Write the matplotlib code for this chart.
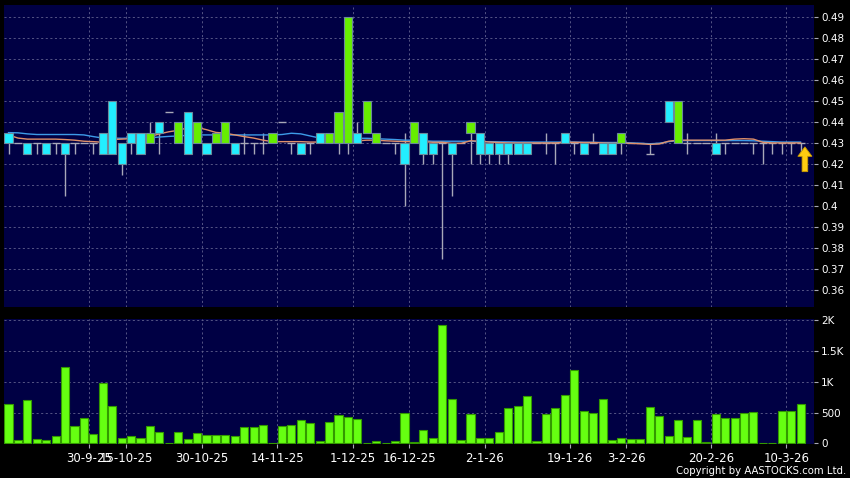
import matplotlib
matplotlib.use("Agg")
import matplotlib.pyplot as plt

# daily candles, one per trading session (index 0..84)
opens = [0.430, 0.430, 0.425, 0.430, 0.425, 0.430, 0.425, 0.430, 0.430, 0.430,
         0.425, 0.425, 0.420, 0.430, 0.425, 0.435, 0.435, 0.445, 0.440, 0.425,
         0.440, 0.425, 0.435, 0.440, 0.425, 0.430, 0.430, 0.430, 0.435, 0.440,
         0.430, 0.425, 0.430, 0.430, 0.435, 0.445, 0.490, 0.430, 0.450, 0.435,
         0.430, 0.430, 0.420, 0.440, 0.425, 0.425, 0.430, 0.425, 0.430, 0.440,
         0.425, 0.425, 0.425, 0.425, 0.425, 0.425, 0.430, 0.430, 0.430, 0.430,
         0.430, 0.425, 0.430, 0.425, 0.425, 0.435, 0.430, 0.430, 0.425, 0.430,
         0.440, 0.450, 0.430, 0.430, 0.430, 0.425, 0.430, 0.430, 0.430, 0.430,
         0.430, 0.430, 0.430, 0.430, 0.430]
closes = [0.435, 0.430, 0.430, 0.430, 0.430, 0.430, 0.430, 0.430, 0.430, 0.430,
          0.435, 0.450, 0.430, 0.435, 0.435, 0.430, 0.440, 0.445, 0.430, 0.445,
          0.430, 0.430, 0.430, 0.430, 0.430, 0.430, 0.430, 0.430, 0.430, 0.440,
          0.430, 0.430, 0.430, 0.435, 0.430, 0.430, 0.430, 0.435, 0.435, 0.430,
          0.430, 0.430, 0.430, 0.430, 0.435, 0.430, 0.430, 0.430, 0.430, 0.435,
          0.435, 0.430, 0.430, 0.430, 0.430, 0.430, 0.430, 0.430, 0.430, 0.435,
          0.430, 0.430, 0.430, 0.430, 0.430, 0.430, 0.430, 0.430, 0.425, 0.430,
          0.450, 0.430, 0.430, 0.430, 0.430, 0.430, 0.430, 0.430, 0.430, 0.430,
          0.430, 0.430, 0.430, 0.430, 0.430]
highs = [0.435, 0.430, 0.430, 0.430, 0.430, 0.430, 0.430, 0.430, 0.430, 0.430,
         0.435, 0.450, 0.430, 0.435, 0.435, 0.440, 0.440, 0.445, 0.440, 0.445,
         0.440, 0.430, 0.435, 0.440, 0.430, 0.435, 0.430, 0.435, 0.435, 0.440,
         0.430, 0.430, 0.430, 0.435, 0.435, 0.445, 0.490, 0.440, 0.450, 0.435,
         0.430, 0.430, 0.435, 0.440, 0.435, 0.430, 0.430, 0.430, 0.430, 0.440,
         0.435, 0.430, 0.430, 0.430, 0.430, 0.430, 0.430, 0.435, 0.430, 0.435,
         0.430, 0.430, 0.435, 0.430, 0.430, 0.435, 0.430, 0.430, 0.430, 0.430,
         0.450, 0.450, 0.435, 0.430, 0.430, 0.435, 0.430, 0.430, 0.430, 0.430,
         0.430, 0.430, 0.430, 0.430, 0.430]
lows = [0.425, 0.430, 0.425, 0.425, 0.425, 0.425, 0.405, 0.425, 0.430, 0.425,
        0.425, 0.425, 0.415, 0.425, 0.425, 0.430, 0.425, 0.445, 0.430, 0.425,
        0.430, 0.425, 0.430, 0.430, 0.425, 0.425, 0.425, 0.425, 0.430, 0.440,
        0.425, 0.425, 0.425, 0.430, 0.430, 0.425, 0.425, 0.430, 0.435, 0.430,
        0.430, 0.425, 0.400, 0.430, 0.420, 0.420, 0.375, 0.405, 0.430, 0.420,
        0.420, 0.420, 0.420, 0.420, 0.425, 0.425, 0.430, 0.425, 0.420, 0.430,
        0.425, 0.425, 0.430, 0.425, 0.425, 0.425, 0.430, 0.430, 0.425, 0.430,
        0.440, 0.430, 0.425, 0.430, 0.430, 0.425, 0.425, 0.430, 0.430, 0.425,
        0.420, 0.425, 0.425, 0.425, 0.425]
volumes = [634, 49, 704, 65, 49, 114, 1246, 282, 406, 146,
           975, 601, 92, 114, 92, 287, 190, 0, 190, 76,
           162, 135, 130, 135, 119, 265, 260, 298, 0, 276,
           298, 379, 330, 33, 347, 455, 433, 401, 11, 43,
           11, 33, 493, 22, 220, 92, 1918, 720, 49, 471,
           92, 92, 184, 574, 607, 764, 43, 471, 574, 780,
           1197, 525, 487, 720, 49, 87, 65, 65, 585, 450,
           114, 379, 103, 379, 16, 471, 412, 412, 498, 509,
           0, 0, 525, 525, 634]

# moving averages as drawn on the chart (orange = short, blue = long)
ma_short = [0.4340, 0.4325, 0.4320, 0.4320, 0.4320, 0.4320, 0.4318, 0.4315, 0.4310, 0.4308,
            0.4305, 0.4318, 0.4320, 0.4322, 0.4330, 0.4332, 0.4345, 0.4355, 0.4362, 0.4374,
            0.4376, 0.4365, 0.4352, 0.4348, 0.4340, 0.4332, 0.4325, 0.4315, 0.4308, 0.4308,
            0.4308, 0.4308, 0.4306, 0.4306, 0.4308, 0.4310, 0.4312, 0.4312, 0.4315, 0.4315,
            0.4312, 0.4310, 0.4308, 0.4308, 0.4308, 0.4305, 0.4305, 0.4300, 0.4300, 0.4312,
            0.4310, 0.4306, 0.4304, 0.4302, 0.4302, 0.4302, 0.4302, 0.4302, 0.4302, 0.4305,
            0.4305, 0.4304, 0.4304, 0.4302, 0.4300, 0.4302, 0.4300, 0.4298, 0.4295, 0.4297,
            0.4310, 0.4315, 0.4315, 0.4315, 0.4315, 0.4315, 0.4315, 0.4320, 0.4322, 0.4320,
            0.4305, 0.4302, 0.4302, 0.4302, 0.4302]
ma_long = [0.4351, 0.4350, 0.4345, 0.4342, 0.4342, 0.4342, 0.4342, 0.4342, 0.4340, 0.4332,
           0.4325, 0.4325, 0.4324, 0.4325, 0.4325, 0.4326, 0.4330, 0.4333, 0.4335, 0.4338,
           0.4340, 0.4340, 0.4340, 0.4340, 0.4340, 0.4340, 0.4340, 0.4340, 0.4340, 0.4342,
           0.4348, 0.4345, 0.4335, 0.4325, 0.4322, 0.4320, 0.4322, 0.4324, 0.4324, 0.4322,
           0.4320, 0.4318, 0.4315, 0.4315, 0.4312, 0.4310, 0.4310, 0.4310, 0.4310, 0.4310,
           0.4308, 0.4308, 0.4307, 0.4307, 0.4306, 0.4306, 0.4306, 0.4306, 0.4306, 0.4306,
           0.4306, 0.4305, 0.4305, 0.4304, 0.4304, 0.4304, 0.4302, 0.4300, 0.4298, 0.4300,
           0.4308, 0.4313, 0.4313, 0.4313, 0.4313, 0.4313, 0.4313, 0.4313, 0.4313, 0.4312,
           0.4310, 0.4308, 0.4306, 0.4306, 0.4306]

# date ticks sit on the boundary after these candles
tick_pos = [8.5, 12.5, 20.5, 28.5, 36.5, 42.5, 50.5, 59.5, 65.5, 74.5, 82.5]
tick_labels = ['30-9-25', '15-10-25', '30-10-25', '14-11-25', '1-12-25', '16-12-25',
               '2-1-26', '19-1-26', '3-2-26', '20-2-26', '10-3-26']
price_ticks = [0.36, 0.37, 0.38, 0.39, 0.40, 0.41, 0.42, 0.43, 0.44, 0.45, 0.46, 0.47, 0.48, 0.49]
price_labels = ['0.36', '0.37', '0.38', '0.39', '0.4', '0.41', '0.42', '0.43', '0.44', '0.45',
                '0.46', '0.47', '0.48', '0.49']
vol_ticks = [0, 500, 1000, 1500, 2000]
vol_labels = ['0', '500', '1K', '1.5K', '2K']

BG = '#000044'
GRID = '#62628f'
UP = '#22eeff'
DOWN = '#66ee00'
WICK = '#a8a8b8'

fig = plt.figure(figsize=(8.5, 4.78), dpi=100, facecolor='black')
ax_p = fig.add_axes([0.0047, 0.3577, 0.9529, 0.6318])
ax_v = fig.add_axes([0.0047, 0.0711, 0.9529, 0.2615], sharex=ax_p)

for ax in (ax_p, ax_v):
    ax.set_facecolor(BG)
    for s in ax.spines.values():
        s.set_visible(False)
    ax.yaxis.tick_right()
    ax.tick_params(axis='y', colors=WICK, labelcolor='white', length=3, width=0.8,
                   pad=2, labelsize=7.5)
    for p in tick_pos:
        ax.axvline(p, color=GRID, lw=0.6, ls=(0, (2.5, 3)), zorder=1)

n = len(closes)
idx = list(range(n))
w = 0.86

# price panel
for v in price_ticks:
    ax_p.axhline(v, color=GRID, lw=0.6, ls=(0, (2.5, 3)), zorder=1)
ax_p.vlines(idx, lows, highs, color=WICK, lw=1.0, zorder=2)
ax_p.plot(idx, ma_long, color='#3d9be8', lw=1.0, zorder=3)
ax_p.plot(idx, ma_short, color='#e0906a', lw=1.0, zorder=3)
for i in idx:
    o, c = opens[i], closes[i]
    if o == c:
        ax_p.hlines(c, i - w / 2, i + w / 2, color=WICK, lw=1.0, zorder=2)
    else:
        col = UP if c > o else DOWN
        ax_p.bar(i, abs(c - o), bottom=min(o, c), width=w, color=col,
                 edgecolor='#6b8a9a', lw=0.8, zorder=4)

# last price marker
ax_p.arrow(84.46, 0.4165, 0, 0.0118, width=0.6, head_width=1.5, head_length=0.0045,
           length_includes_head=True, fc='#ffcc11', ec='#c89a00', lw=0.6, zorder=5)

ax_p.set_ylim(0.352, 0.4959)
ax_p.set_yticks(price_ticks)
ax_p.set_yticklabels(price_labels)
ax_p.tick_params(axis='x', which='both', bottom=False, labelbottom=False)

# volume panel
for v in vol_ticks[1:]:
    ax_v.axhline(v, color=GRID, lw=0.6, ls=(0, (2.5, 3)), zorder=1)
ax_v.bar(idx, volumes, width=w, color='#66ff11', edgecolor='#339900', lw=0.8, zorder=3)
ax_v.set_ylim(-10, 2020)
ax_v.set_yticks(vol_ticks)
ax_v.set_yticklabels(vol_labels)
ax_v.set_xlim(-0.48, 85.42)
ax_v.set_xticks(tick_pos)
ax_v.set_xticklabels(tick_labels)
ax_v.tick_params(axis='x', colors=WICK, labelcolor='white', length=3, width=0.8,
                 pad=3, labelsize=8.5)

fig.text(0.995, 0.004, 'Copyright by AASTOCKS.com Ltd.', ha='right', va='bottom',
         color='white', fontsize=7.3)

fig.savefig('out.png', dpi=100, facecolor='black')
